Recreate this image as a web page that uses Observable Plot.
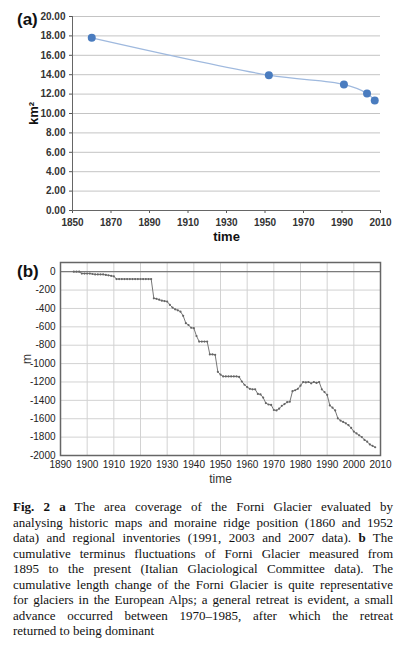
<!DOCTYPE html>
<html><head><meta charset="utf-8">
<script src="https://cdn.jsdelivr.net/npm/d3@7"></script>
<script src="https://cdn.jsdelivr.net/npm/@observablehq/plot@0.6"></script>
<style>
body{margin:0;background:#fff;width:397px;height:650px;position:relative;overflow:hidden;font-family:"Liberation Sans",Arial,sans-serif;}
#a{position:absolute;left:0;top:0}
#b{position:absolute;left:0;top:250px}
.lab{position:absolute;font-weight:bold;font-size:17px;color:#111}
#a g[aria-label="y-axis label"] text,#a g[aria-label="x-axis label"] text{font-size:13px;font-weight:bold;fill:#111}
#b g[aria-label="y-axis label"] text,#b g[aria-label="x-axis label"] text{font-size:12px;font-weight:normal;fill:#333}
#cap{position:absolute;left:13px;top:499px;width:380px;font-family:"Liberation Serif","Times New Roman",serif;font-size:13px;line-height:15.5px;color:#111}
#cap div{text-align:justify;text-align-last:justify}
#cap div.last{text-align-last:left}
</style></head><body>
<div id="a"></div>
<div id="b"></div>
<div class="lab" style="left:17px;top:10px">(a)</div>
<div class="lab" style="left:17px;top:262px">(b)</div>
<div id="cap">
<div><b>Fig. 2 a</b> The area coverage of the Forni Glacier evaluated by</div>
<div>analysing historic maps and moraine ridge position (1860 and 1952</div>
<div>data) and regional inventories (1991, 2003 and 2007 data). <b>b</b> The</div>
<div>cumulative terminus fluctuations of Forni Glacier measured from</div>
<div>1895 to the present (Italian Glaciological Committee data). The</div>
<div>cumulative length change of the Forni Glacier is quite representative</div>
<div>for glaciers in the European Alps; a general retreat is evident, a small</div>
<div>advance occurred between 1970–1985, after which the retreat</div>
<div class="last">returned to being dominant</div>
</div>
<script>
// Panel (a): glacier area (km²)
const yearsA = [1860, 1952, 1991, 2003, 2007];
const areaA = [17.8, 13.95, 13.0, 12.07, 11.35];
const ticksAx = [1850, 1870, 1890, 1910, 1930, 1950, 1970, 1990, 2010];
const ticksAy = [0, 2, 4, 6, 8, 10, 12, 14, 16, 18, 20];

// Panel (b): cumulative terminus fluctuation (m), 1895-2008
const yearsB = d3.range(1895, 2009);
const lengthB = [
  0, 0, 0, -20, -20, -20, -20, -25, -30, -30,
  -30, -30, -35, -40, -45, -50, -80, -80, -80, -80,
  -80, -80, -80, -80, -80, -80, -80, -80, -80, -80,
  -290, -295, -305, -315, -320, -325, -360, -390, -410, -420,
  -435, -480, -560, -580, -610, -615, -700, -760, -760, -760,
  -760, -900, -900, -905, -1090, -1120, -1140, -1140, -1140, -1140,
  -1140, -1140, -1145, -1195, -1230, -1255, -1275, -1280, -1280, -1330,
  -1335, -1370, -1430, -1445, -1450, -1505, -1510, -1490, -1460, -1440,
  -1420, -1415, -1300, -1290, -1275, -1240, -1200, -1205, -1200, -1215,
  -1200, -1210, -1200, -1280, -1310, -1340, -1455, -1480, -1510, -1595,
  -1620, -1635, -1650, -1670, -1700, -1740, -1760, -1780, -1800, -1830,
  -1850, -1880, -1895, -1910
];
const ticksBx = [1890, 1900, 1910, 1920, 1930, 1940, 1950, 1960, 1970, 1980, 1990, 2000, 2010];
const ticksBy = [0, -200, -400, -600, -800, -1000, -1200, -1400, -1600, -1800, -2000];

const dataA = yearsA.map((x, i) => ({x, y: areaA[i]}));
const dataB = yearsB.map((x, i) => ({x, y: lengthB[i]}));

const chartA = Plot.plot({
  width: 397, height: 245,
  marginLeft: 72, marginRight: 17, marginTop: 16, marginBottom: 35,
  style: {fontFamily: "Liberation Sans, Arial, sans-serif", fontSize: "10px", color: "#333", background: "transparent", overflow: "visible"},
  x: {domain: [1850, 2010], label: null},
  y: {domain: [0, 20], label: null},
  marks: [
    Plot.gridY(ticksAy.filter(d => d > 0), {stroke: "#c4c4c4", strokeOpacity: 1}),
    Plot.axisY(ticksAy, {tickFormat: d3.format(".2f"), tickSize: 3, tickPadding: 4, fontWeight: "bold", stroke: "#555", label: "km²", labelAnchor: "center", labelArrow: "none", labelOffset: 44}),
    Plot.axisX(ticksAx, {tickFormat: d => String(d), tickSize: 3, tickPadding: 5, fontWeight: "bold", stroke: "#555", label: "time", labelAnchor: "center", labelArrow: "none", labelOffset: 30}),
    Plot.ruleX([1850], {stroke: "#666"}),
    Plot.ruleY([0], {stroke: "#666"}),
    Plot.line(dataA, {x: "x", y: "y", curve: "catmull-rom", stroke: "#9fb9de", strokeWidth: 1.2}),
    Plot.dot(dataA, {x: "x", y: "y", r: 4, fill: "#4a7cbf", stroke: "none"})
  ]
});
document.getElementById("a").append(chartA);

const chartB = Plot.plot({
  width: 397, height: 235,
  marginLeft: 60, marginRight: 17, marginTop: 12, marginBottom: 30,
  style: {fontFamily: "Liberation Sans, Arial, sans-serif", fontSize: "10px", color: "#222", background: "transparent", overflow: "visible"},
  x: {domain: [1890, 2010], label: null},
  y: {domain: [-2000, 100], label: null},
  marks: [
    Plot.gridX(ticksBx, {stroke: "#d2d2d2", strokeOpacity: 1}),
    Plot.gridY(ticksBy, {stroke: "#d2d2d2", strokeOpacity: 1}),
    Plot.ruleY([0], {stroke: "#666"}),
    Plot.frame({stroke: "#666", strokeWidth: 1.5}),
    Plot.axisX(ticksBx, {tickFormat: d => String(d), tickSize: 0, tickPadding: 5, label: "time", labelAnchor: "center", labelArrow: "none", labelOffset: 27}),
    Plot.axisY(ticksBy, {tickFormat: d => String(d), tickSize: 0, tickPadding: 5, label: "m", labelAnchor: "center", labelArrow: "none", labelOffset: 38}),
    Plot.line(dataB, {x: "x", y: "y", stroke: "#777", strokeWidth: 1}),
    Plot.dot(dataB, {x: "x", y: "y", r: 1.1, fill: "#666", stroke: "none"})
  ]
});
document.getElementById("b").append(chartB);
</script>
</body></html>
